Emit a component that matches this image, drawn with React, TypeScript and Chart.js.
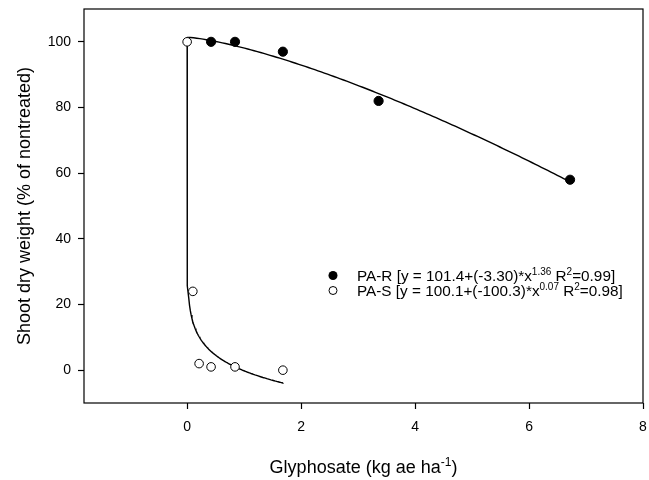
import React, { useEffect, useRef } from "react";
import { Chart, registerables } from "chart.js";
Chart.register(...registerables);

const PA_R_X = [0.42, 0.84, 1.68, 3.36, 6.72];
const PA_R_Y = [100, 100, 97, 82, 58];
const PA_S_X = [0, 0.1, 0.21, 0.42, 0.84, 1.68];
const PA_S_Y = [100, 24, 2, 1, 1, 0];

// Fitted equations printed in the legend: y = a + b * x^c
const PA_R_FIT = [101.4, -3.3, 1.36];
const PA_S_FIT = [100.1, -100.3, 0.07];
const PA_R_FIT_RANGE = [0, 6.72];
const PA_S_FIT_RANGE = [0, 1.68];

const X_TICKS = [0, 2, 4, 6, 8];
const Y_TICKS = [0, 20, 40, 60, 80, 100];
const X_RANGE = [-1.81, 8];
const Y_RANGE = [-10, 110];

const LEGEND_ROWS = [
  { label: "PA-R", a: "101.4", b: "(-3.30)", c: "1.36", r2: "0.99", filled: true },
  { label: "PA-S", a: "100.1", b: "(-100.3)", c: "0.07", r2: "0.98", filled: false },
];

const FONT = '"Liberation Sans", Arial, Helvetica, sans-serif';

function fitCurve(fit: number[], range: number[]) {
  const [a, b, c] = fit;
  const xs: number[] = [range[0]];
  [1e-12, 1e-10, 1e-8, 1e-6, 1e-5, 1e-4, 1e-3, 3e-3, 6e-3].forEach((v) => {
    if (v > range[0] && v < range[1]) xs.push(v);
  });
  const steps = 120;
  for (let i = 1; i <= steps; i++) {
    const x = range[0] + ((range[1] - range[0]) * i) / steps;
    if (x > 0.006) xs.push(x);
  }
  return xs.map((x) => ({ x, y: a + b * Math.pow(x, c) }));
}

function drawRich(
  ctx: CanvasRenderingContext2D,
  x: number,
  y: number,
  parts: { t: string; sup?: boolean }[],
  size: number,
  supSize: number,
  supRaise: number
) {
  let cx = x;
  for (const p of parts) {
    ctx.font = `${p.sup ? supSize : size}px ${FONT}`;
    ctx.fillText(p.t, cx, p.sup ? y - supRaise : y);
    cx += ctx.measureText(p.t).width;
  }
  return cx;
}

function measureRich(ctx: CanvasRenderingContext2D, parts: { t: string; sup?: boolean }[], size: number, supSize: number) {
  let w = 0;
  for (const p of parts) {
    ctx.font = `${p.sup ? supSize : size}px ${FONT}`;
    w += ctx.measureText(p.t).width;
  }
  return w;
}

const decorPlugin = {
  id: "decor",
  afterDraw(chart: any) {
    const ctx: CanvasRenderingContext2D = chart.ctx;
    const area = chart.chartArea;
    ctx.save();
    ctx.strokeStyle = "#000";
    ctx.lineWidth = 1.2;
    ctx.strokeRect(area.left, area.top, area.right - area.left, area.bottom - area.top);

    ctx.fillStyle = "#000";
    ctx.textBaseline = "alphabetic";
    ctx.textAlign = "left";

    // x-axis title
    const xParts = [{ t: "Glyphosate (kg ae ha" }, { t: "-1", sup: true }, { t: ")" }];
    const xw = measureRich(ctx, xParts, 18, 12);
    const xc = (area.left + area.right) / 2;
    drawRich(ctx, xc - xw / 2, 473, xParts, 18, 12, 7);

    // y-axis title
    ctx.save();
    const yc = (area.top + area.bottom) / 2;
    ctx.translate(29.5, yc);
    ctx.rotate(-Math.PI / 2);
    ctx.font = `18px ${FONT}`;
    ctx.textAlign = "center";
    ctx.fillText("Shoot dry weight (% of nontreated)", 0, 0);
    ctx.restore();

    // legend
    const baseY = [281, 296];
    LEGEND_ROWS.forEach((row, i) => {
      const by = baseY[i];
      ctx.beginPath();
      ctx.arc(333, by - 5.5, row.filled ? 4.5 : 4, 0, Math.PI * 2);
      if (row.filled) {
        ctx.fillStyle = "#000";
        ctx.fill();
      } else {
        ctx.fillStyle = "#fff";
        ctx.fill();
        ctx.strokeStyle = "#000";
        ctx.lineWidth = 1;
        ctx.stroke();
      }
      ctx.fillStyle = "#000";
      ctx.textAlign = "left";
      drawRich(
        ctx,
        357,
        by,
        [
          { t: `${row.label} [y = ${row.a}+${row.b}*x` },
          { t: row.c, sup: true },
          { t: " R" },
          { t: "2", sup: true },
          { t: `=${row.r2}]` },
        ],
        15.3,
        10,
        6
      );
    });
    ctx.restore();
  },
};

function zeroPad(s: any) {
  s.paddingTop = 0;
  s.paddingBottom = 0;
  s.paddingLeft = 0;
  s.paddingRight = 0;
}

export default function App() {
  const ref = useRef<HTMLCanvasElement | null>(null);
  useEffect(() => {
    document.body.style.margin = "0";
    if (!ref.current) return;
    const chart = new Chart(ref.current, {
      type: "scatter",
      data: {
        datasets: [
          {
            label: "PA-S",
            data: PA_S_X.map((x, i) => ({ x, y: PA_S_Y[i] })),
            pointRadius: 4.3,
            pointBackgroundColor: "#fff",
            pointBorderColor: "#000",
            pointBorderWidth: 1,
            showLine: false,
          },
          {
            label: "PA-R",
            data: PA_R_X.map((x, i) => ({ x, y: PA_R_Y[i] })),
            pointRadius: 4.6,
            pointBackgroundColor: "#000",
            pointBorderColor: "#000",
            pointBorderWidth: 1,
            showLine: false,
          },
          {
            label: "PA-R fit",
            data: fitCurve(PA_R_FIT, PA_R_FIT_RANGE),
            showLine: true,
            pointRadius: 0,
            borderColor: "#000",
            borderWidth: 1.4,
            tension: 0,
          },
          {
            label: "PA-S fit",
            data: fitCurve(PA_S_FIT, PA_S_FIT_RANGE),
            showLine: true,
            pointRadius: 0,
            borderColor: "#000",
            borderWidth: 1.4,
            tension: 0,
          },
        ],
      },
      options: {
        responsive: false,
        animation: false,
        events: [],
        layout: { autoPadding: false, padding: { top: 9, right: 6, left: 0, bottom: 0 } },
        plugins: { legend: { display: false }, tooltip: { enabled: false } },
        scales: {
          x: {
            type: "linear",
            min: X_RANGE[0],
            max: X_RANGE[1],
            afterBuildTicks: (s: any) => {
              s.ticks = X_TICKS.map((v) => ({ value: v }));
            },
            afterFit: (s: any) => {
              s.height = 77;
              zeroPad(s);
            },
            grid: { drawOnChartArea: false, drawTicks: true, tickLength: 6, color: "#000", tickWidth: 1.2 },
            border: { display: false },
            ticks: {
              color: "#000",
              padding: 10,
              font: { family: FONT, size: 14 },
              callback: (v: any) => String(v),
              maxRotation: 0,
              autoSkip: false,
            },
          },
          y: {
            type: "linear",
            min: Y_RANGE[0],
            max: Y_RANGE[1],
            afterBuildTicks: (s: any) => {
              s.ticks = Y_TICKS.map((v) => ({ value: v }));
            },
            afterFit: (s: any) => {
              s.width = 84;
              zeroPad(s);
            },
            grid: { drawOnChartArea: false, drawTicks: true, tickLength: 6, color: "#000", tickWidth: 1.2 },
            border: { display: false },
            ticks: {
              color: "#000",
              padding: 7,
              font: { family: FONT, size: 14 },
              callback: (v: any) => String(v),
              autoSkip: false,
            },
          },
        },
      },
      plugins: [decorPlugin],
    });
    return () => chart.destroy();
  }, []);
  return <canvas ref={ref} width={649} height={480} style={{ display: "block" }} />;
}
